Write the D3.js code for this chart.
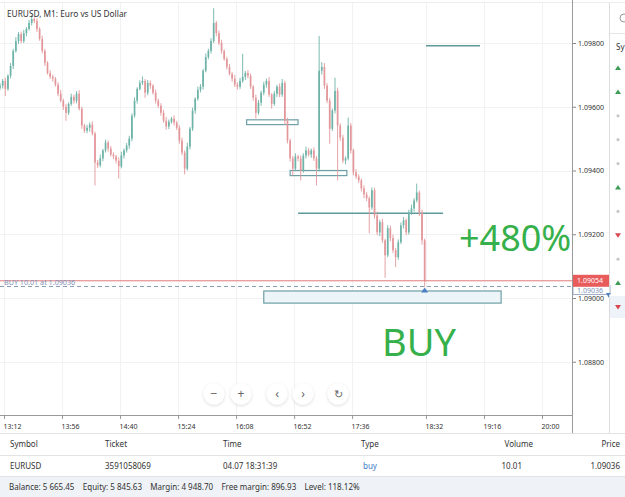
<!DOCTYPE html>
<html>
<head>
<meta charset="utf-8">
<script src="https://cdn.jsdelivr.net/npm/d3@7"></script>
<style>
  body { margin: 0; background: #fff; }
  svg { display: block; font-family: "Noto Sans", "Open Sans", sans-serif; }
</style>
</head>
<body>
<svg id="chart" width="625" height="497"></svg>
<script>
// EURUSD M1 — prices kept in points above 1.09000 (1 point = 0.00001)
const firstOpen = 660;
const startTime = "13:09";
const stepMinutes = 2;

const closes = [
  666,681,656,697,728,775,806,828,806,831,
  844,863,875,869,844,813,775,738,706,694,
  688,669,641,619,600,581,609,631,619,641,
  594,541,525,534,544,516,425,416,438,463,
  488,469,450,444,431,413,447,463,478,500,
  572,619,656,675,681,644,675,666,644,619,
  603,581,556,538,553,563,550,534,494,456,
  406,475,531,588,625,653,663,713,756,775,
  806,863,831,800,775,750,725,703,688,669,
  663,681,694,706,697,663,628,581,613,644,
  669,681,638,609,641,663,638,675,556,494,
  438,406,444,438,400,447,463,450,463,438,
  406,713,725,666,619,531,588,650,541,503,
  431,438,541,463,394,381,369,344,325,313,
  284,338,259,206,238,181,134,219,188,150,
  128,175,228,244,206,269,281,306,331,269,
  181,54
];
// wick length above body top / below body bottom, in points
const wickUp = [
  8,6,10,5,9,7,12,6,8,10,
  6,9,13,5,8,6,10,7,5,9,
  7,5,8,12,6,9,5,10,7,8,
  11,6,5,9,7,10,6,8,12,5,
  9,6,8,7,5,10,12,6,8,9,
  7,10,5,8,14,6,9,7,5,10,
  6,8,9,12,7,5,10,6,8,9,
  7,12,6,9,5,10,8,6,11,7,
  9,46,6,8,10,5,7,9,6,12,
  8,10,72,6,9,7,5,10,8,6,
  9,7,12,5,8,6,10,12,7,9,
  6,8,10,5,9,7,12,8,6,10,
  7,109,15,12,8,9,6,41,10,7,
  9,6,25,8,5,10,7,6,9,8,
  6,9,8,12,7,10,5,9,8,11,
  7,9,9,10,6,8,12,7,28,6,
  8,5
];
const wickDown = [
  7,9,22,6,8,10,5,9,7,6,
  10,5,8,7,9,6,8,10,5,7,
  9,6,8,5,10,25,7,6,9,8,
  6,10,7,8,12,6,72,8,6,9,
  7,10,6,8,9,38,6,9,7,10,
  8,6,9,5,7,16,8,10,6,9,
  7,9,6,10,8,6,9,7,10,8,
  18,6,9,7,10,6,8,9,5,7,
  8,6,10,7,9,6,8,5,10,7,
  9,7,6,10,8,7,9,18,6,10,
  8,9,7,15,6,10,8,7,12,9,
  10,22,8,9,31,7,9,6,10,8,
  53,9,12,10,8,47,7,9,172,10,
  8,12,6,10,9,7,8,10,12,9,
  81,7,10,9,12,8,71,6,10,9,
  31,8,6,10,9,7,8,10,6,12,
  14,20
];

const priceTicks = [1.088, 1.090, 1.092, 1.094, 1.096, 1.098];
const timeTicks = ["13:12","13:56","14:40","15:24","16:08","16:52","17:36","18:32","19:16","20:00"];

const bidPoints = 54;
const buyPoints = 36;

// drawn objects on the chart (times + price levels in points)
const boxes = [
  { from: "16:16", to: "16:55", hi: 559, lo: 544, fill: "none" },
  { from: "16:49", to: "17:32", hi: 400, lo: 384, fill: "none" },
  { from: "16:29", to: "19:29", hi: 22, lo: -16, fill: "#eef5f8" }
];
const hLines = [
  { from: "18:32", to: "19:13", level: 791 },
  { from: "16:55", to: "18:45", level: 266 }
];

const rightMarks = ["up","up","dot","dot","dot","up","dot","down","dot","up","down"];

const tableHeader = ["Symbol","Ticket","Time","Type","Volume","Price"];
const tableRow = ["EURUSD","3591058069","04.07 18:31:39","buy","10.01","1.09036"];
const accountInfo = ["Balance: 5 665.45","Equity: 5 845.63","Margin: 4 948.70","Free margin: 896.93","Level: 118.12%"];

// ---------- scales ----------
const base = 1.09;
const toPrice = p => base + p / 1e5;
const parseT = s => { const [h, m] = s.split(":").map(Number); return h * 60 + m; };

const plotRight = 572, plotBottom = 415;
const x = d3.scaleLinear().domain([parseT("13:12"), parseT("20:00")]).range([4, 542]);
const y = d3.scaleLinear().domain([1.088, 1.098]).range([361.75, 43]);

const candles = closes.map((c, i) => {
  const o = i === 0 ? firstOpen : closes[i - 1];
  return {
    t: parseT(startTime) + i * stepMinutes,
    o, c,
    h: Math.max(o, c) + wickUp[i],
    l: Math.min(o, c) - wickDown[i]
  };
});

const svg = d3.select("#chart");

svg.append("defs").append("clipPath").attr("id", "plot")
  .append("rect").attr("x", 0).attr("y", 3).attr("width", plotRight).attr("height", plotBottom - 3);

const shadow = svg.select("defs").append("filter").attr("id", "sh")
  .attr("x", -0.5).attr("y", -0.5).attr("width", 2).attr("height", 2);
shadow.append("feDropShadow").attr("dx", 0).attr("dy", 1).attr("stdDeviation", 1.5)
  .attr("flood-color", "#000").attr("flood-opacity", 0.16);

// top border
svg.append("line").attr("x1", 0).attr("x2", 625).attr("y1", 2.5).attr("y2", 2.5)
  .attr("stroke", "#ececec");

// grid
const grid = svg.append("g").attr("clip-path", "url(#plot)");
grid.selectAll(".vg").data(timeTicks).enter().append("line")
  .attr("x1", d => Math.round(x(parseT(d))) + 0.5).attr("x2", d => Math.round(x(parseT(d))) + 0.5)
  .attr("y1", 0).attr("y2", plotBottom).attr("stroke", "#f2f2f2");
grid.selectAll(".hg").data(priceTicks).enter().append("line")
  .attr("x1", 0).attr("x2", plotRight)
  .attr("y1", d => Math.round(y(d)) + 0.5).attr("y2", d => Math.round(y(d)) + 0.5)
  .attr("stroke", "#f2f2f2");

const plot = svg.append("g").attr("clip-path", "url(#plot)");

// drawn boxes and lines
plot.selectAll(".box").data(boxes).enter().append("rect")
  .attr("x", d => x(parseT(d.from)))
  .attr("y", d => y(toPrice(d.hi)))
  .attr("width", d => x(parseT(d.to)) - x(parseT(d.from)))
  .attr("height", d => y(toPrice(d.lo)) - y(toPrice(d.hi)))
  .attr("fill", d => d.fill)
  .attr("stroke", "#6d9fa6").attr("stroke-width", 1.2);

plot.selectAll(".hl").data(hLines).enter().append("line")
  .attr("x1", d => x(parseT(d.from))).attr("x2", d => x(parseT(d.to)))
  .attr("y1", d => y(toPrice(d.level))).attr("y2", d => y(toPrice(d.level)))
  .attr("stroke", "#5f9a9b").attr("stroke-width", 1.5);

// candles
const bull = "#6db3a8", bear = "#e3979a";
const bodyW = 1.7;
const cg = plot.append("g");
cg.selectAll(".wick").data(candles).enter().append("line")
  .attr("x1", d => x(d.t)).attr("x2", d => x(d.t))
  .attr("y1", d => y(toPrice(d.h))).attr("y2", d => y(toPrice(d.l)))
  .attr("stroke", d => d.c >= d.o ? bull : bear).attr("stroke-width", 0.9);
cg.selectAll(".body").data(candles).enter().append("rect")
  .attr("x", d => x(d.t) - bodyW / 2)
  .attr("y", d => y(toPrice(Math.max(d.o, d.c))))
  .attr("width", bodyW)
  .attr("height", d => Math.max(0.8, Math.abs(y(toPrice(d.o)) - y(toPrice(d.c)))))
  .attr("fill", d => d.c >= d.o ? bull : bear);

// bid line and buy order line
plot.append("line").attr("x1", 0).attr("x2", plotRight)
  .attr("y1", y(toPrice(bidPoints))).attr("y2", y(toPrice(bidPoints)))
  .attr("stroke", "#e07b7b").attr("stroke-width", 1);
plot.append("line").attr("x1", 0).attr("x2", plotRight)
  .attr("y1", y(toPrice(buyPoints))).attr("y2", y(toPrice(buyPoints)))
  .attr("stroke", "#8a9cb8").attr("stroke-width", 1).attr("stroke-dasharray", "4,3");
plot.append("text").attr("x", 4).attr("y", y(toPrice(buyPoints)) - 2)
  .attr("font-size", 7.2).attr("fill", "#8092b8")
  .text("BUY 10.01 at 1.09036");

// buy marker at last candle
const last = candles[candles.length - 1];
const mx = x(last.t), my = y(toPrice(buyPoints)) + 1;
plot.append("path")
  .attr("d", `M${mx},${my} l3.5,5 l-7,0 z`)
  .attr("fill", "#4a80c4");

// annotations
svg.append("text").attr("x", 459).attr("y", 251)
  .attr("font-size", 36).attr("fill", "#35b04a").text("+480%");
svg.append("text").attr("x", 382).attr("y", 356)
  .attr("font-size", 38).attr("fill", "#35b04a").text("BUY");

// title
svg.append("text").attr("x", 7).attr("y", 17)
  .attr("font-size", 8.3).attr("fill", "#333").text("EURUSD, M1: Euro vs US Dollar");

// price axis
const yAxis = svg.append("g").attr("transform", `translate(${plotRight},0)`)
  .call(d3.axisRight(y).tickValues(priceTicks).tickFormat(d3.format(".5f")).tickSize(4).tickPadding(2));
yAxis.select(".domain").remove();
yAxis.selectAll("line").attr("stroke", "#888");
yAxis.selectAll("text").attr("font-size", 7).attr("fill", "#333")
  .attr("font-family", "'Noto Sans', sans-serif");
svg.append("line").attr("x1", plotRight + 0.5).attr("x2", plotRight + 0.5)
  .attr("y1", 0).attr("y2", plotBottom + 18).attr("stroke", "#9a9a9a");

// price labels on axis
const buyLab = svg.append("g");
buyLab.append("rect").attr("x", plotRight + 1).attr("y", y(toPrice(buyPoints)) - 1)
  .attr("width", 37).attr("height", 9).attr("fill", "#fff").attr("stroke", "#8a9cb8").attr("stroke-width", 0.8);
buyLab.append("text").attr("x", plotRight + 5).attr("y", y(toPrice(buyPoints)) + 6)
  .attr("font-size", 7).attr("fill", "#8092b8").text(d3.format(".5f")(toPrice(buyPoints)));
svg.append("rect").attr("x", plotRight + 1).attr("y", y(toPrice(bidPoints)) - 6)
  .attr("width", 37).attr("height", 12).attr("fill", "#e85c5c");
svg.append("text").attr("x", plotRight + 5).attr("y", y(toPrice(bidPoints)) + 2.6)
  .attr("font-size", 7).attr("fill", "#fff").text(d3.format(".5f")(toPrice(bidPoints)));

// time axis
svg.append("line").attr("x1", 0).attr("x2", plotRight).attr("y1", plotBottom + 0.5).attr("y2", plotBottom + 0.5)
  .attr("stroke", "#9a9a9a");
const xAxis = svg.append("g").attr("transform", `translate(0,${plotBottom})`)
  .call(d3.axisBottom(x).tickValues(timeTicks.map(parseT))
    .tickFormat((d, i) => timeTicks[i]).tickSize(4).tickPadding(5));
xAxis.select(".domain").remove();
xAxis.selectAll("line").attr("stroke", "#999");
xAxis.selectAll("text").attr("font-size", 7).attr("fill", "#333")
  .attr("text-anchor", "start").attr("dx", -1)
  .attr("font-family", "'Noto Sans', sans-serif");

// zoom / navigation buttons
const btnX = [214, 241, 277, 303, 338];
const btnSym = ["\u2212", "+", "\u2039", "\u203A", "\u21BB"];
const btn = svg.selectAll(".btn").data(btnX).enter().append("g")
  .attr("transform", d => `translate(${d},394)`);
btn.append("circle").attr("r", 10.5).attr("fill", "#fff").attr("filter", "url(#sh)");
btn.append("text").attr("text-anchor", "middle").attr("y", 4)
  .attr("font-size", (d, i) => i === 4 ? 11 : 12).attr("fill", "#666")
  .text((d, i) => btnSym[i]);

// right side panel
svg.append("line").attr("x1", 609.5).attr("x2", 609.5).attr("y1", 3).attr("y2", 433).attr("stroke", "#dcdcdc");
svg.append("line").attr("x1", 610).attr("x2", 625).attr("y1", 33.5).attr("y2", 33.5).attr("stroke", "#e6e6e6");
svg.append("circle").attr("cx", 624).attr("cy", 18).attr("r", 4).attr("fill", "none").attr("stroke", "#999");
svg.append("text").attr("x", 616).attr("y", 50).attr("font-size", 8).attr("fill", "#333").text("Sy");
svg.append("rect").attr("x", 610).attr("y", 296).attr("width", 15).attr("height", 22).attr("fill", "#eef3f9");
const rm = svg.selectAll(".rm").data(rightMarks).enter().append("g")
  .attr("transform", (d, i) => `translate(618,${68 + i * 23.9})`);
rm.filter(d => d === "up").append("path").attr("d", "M0,-2.5 L3,2 L-3,2 Z").attr("fill", "#3e9d55");
rm.filter(d => d === "down").append("path").attr("d", "M0,2.5 L3,-2 L-3,-2 Z").attr("fill", "#d9474f");
rm.filter(d => d === "dot").append("circle").attr("r", 1.6).attr("fill", "#c8c8c8");
svg.append("path").attr("d", "M606,293 l5,0 l-2,2 l0,3 z").attr("fill", "#4a80c4");

// trades table
const tableTop = 433;
svg.append("line").attr("x1", 0).attr("x2", 625).attr("y1", tableTop + 0.5).attr("y2", tableTop + 0.5).attr("stroke", "#e3e3e3");
svg.append("line").attr("x1", 0).attr("x2", 625).attr("y1", 455.5).attr("y2", 455.5).attr("stroke", "#e3e3e3");
svg.append("line").attr("x1", 0).attr("x2", 625).attr("y1", 476.5).attr("y2", 476.5).attr("stroke", "#e3e3e3");
svg.append("rect").attr("x", 0).attr("y", 477).attr("width", 625).attr("height", 20).attr("fill", "#eff2f6");

const colX = [10, 105, 223, 361, 533, 620];
const colAnchor = ["start","start","start","start","end","end"];
svg.selectAll(".th").data(tableHeader).enter().append("text")
  .attr("x", (d, i) => colX[i]).attr("y", 447).attr("text-anchor", (d, i) => colAnchor[i])
  .attr("font-size", 8).attr("fill", "#333").text(d => d);
const rowX = [10, 105, 223, 363, 522, 620];
svg.selectAll(".td").data(tableRow).enter().append("text")
  .attr("x", (d, i) => rowX[i]).attr("y", 469).attr("text-anchor", (d, i) => colAnchor[i])
  .attr("font-size", 8).attr("fill", (d, i) => i === 3 ? "#3d7cc9" : "#333").text(d => d);

svg.append("text").attr("x", 9).attr("y", 490).attr("font-size", 8).attr("fill", "#333")
  .attr("xml:space", "preserve").text(accountInfo.join("    "));
</script>
</body>
</html>
